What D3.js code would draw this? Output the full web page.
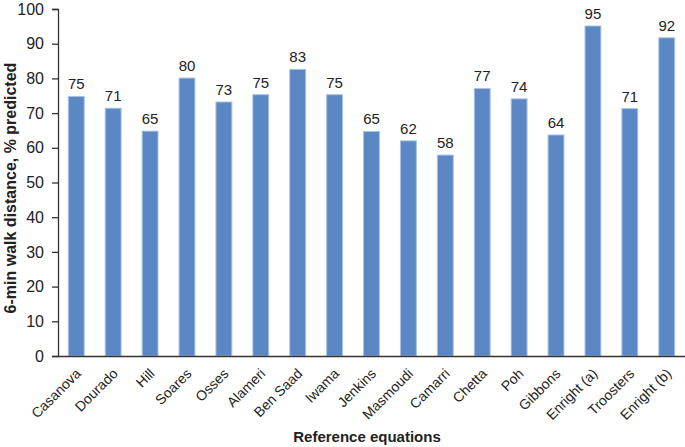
<!DOCTYPE html>
<html>
<head>
<meta charset="utf-8">
<script src="https://cdn.jsdelivr.net/npm/d3@7"></script>
<style>
  html, body { margin: 0; padding: 0; background: #fff; }
  svg { display: block; font-family: "Liberation Sans", Arial, sans-serif; }
</style>
</head>
<body>
<svg id="chart" width="685" height="447"></svg>
<script>
const equations = ['Casanova','Dourado','Hill','Soares','Osses','Alameri','Ben Saad','Iwama','Jenkins',
  'Masmoudi','Camarri','Chetta','Poh','Gibbons','Enright (a)','Troosters','Enright (b)']
const percentPredicted = [74.8, 71.4, 64.8, 80.1, 73.2, 75.3, 82.6, 75.3, 64.7, 62.0, 57.9, 77.1, 74.1, 63.7, 95.1, 71.3, 91.7]
const yTicks = [0, 10, 20, 30, 40, 50, 60, 70, 80, 90, 100]

const svg = d3.select('#chart')
const margin = { top: 9, right: 0, bottom: 91, left: 58 }
const W = 685, H = 447
const innerW = W - margin.left - margin.right
const innerH = H - margin.top - margin.bottom

const x = d3.scaleBand().domain(equations).range([0, innerW]).paddingInner(0.57).paddingOuter(0.28)
const y = d3.scaleLinear().domain([0, 100]).range([innerH, 0])

const g = svg.append('g').attr('transform', `translate(${margin.left},${margin.top})`)

// bars
g.selectAll('rect.bar').data(equations).enter().append('rect')
  .attr('class', 'bar')
  .attr('x', d => x(d))
  .attr('y', (d, i) => y(percentPredicted[i]))
  .attr('width', x.bandwidth())
  .attr('height', (d, i) => innerH - y(percentPredicted[i]))
  .attr('fill', '#5b87c4')
  .attr('stroke', '#a9c2e6')
  .attr('stroke-width', 1)

// value labels
g.selectAll('text.val').data(equations).enter().append('text')
  .attr('class', 'val')
  .attr('x', d => x(d) + x.bandwidth() / 2)
  .attr('y', (d, i) => y(percentPredicted[i]) - 7)
  .attr('text-anchor', 'middle')
  .attr('font-size', 15)
  .attr('fill', '#222')
  .text((d, i) => d3.format('.0f')(percentPredicted[i]))

// y axis
const yAxis = g.append('g')
  .call(d3.axisLeft(y).tickValues(yTicks).tickSize(6).tickPadding(8))
yAxis.select('.domain').attr('stroke', '#333').attr('stroke-width', 1.3)
yAxis.selectAll('.tick line').attr('stroke', '#333').attr('stroke-width', 1.3)
yAxis.selectAll('.tick text').attr('font-size', 16).attr('fill', '#222')
  .attr('font-family', '"Liberation Sans", Arial, sans-serif')

// x axis
const xAxis = g.append('g').attr('transform', `translate(0,${innerH})`)
  .call(d3.axisBottom(x).tickSize(0))
xAxis.select('.domain').attr('stroke', '#333').attr('stroke-width', 1.3)
xAxis.selectAll('.tick text')
  .attr('font-size', 14).attr('fill', '#222')
  .attr('font-family', '"Liberation Sans", Arial, sans-serif')
  .attr('text-anchor', 'end')
  .attr('y', 0)
  .attr('dy', '0.35em')
  .attr('transform', 'translate(2,15) rotate(-45)')

// axis titles
svg.append('text')
  .attr('transform', `translate(16,188) rotate(-90)`)
  .attr('text-anchor', 'middle')
  .attr('font-size', 16).attr('font-weight', 'bold').attr('fill', '#222')
  .text('6-min walk distance, % predicted')

svg.append('text')
  .attr('x', 367)
  .attr('y', 442)
  .attr('text-anchor', 'middle')
  .attr('font-size', 15).attr('font-weight', 'bold').attr('fill', '#222')
  .text('Reference equations')
</script>
</body>
</html>
